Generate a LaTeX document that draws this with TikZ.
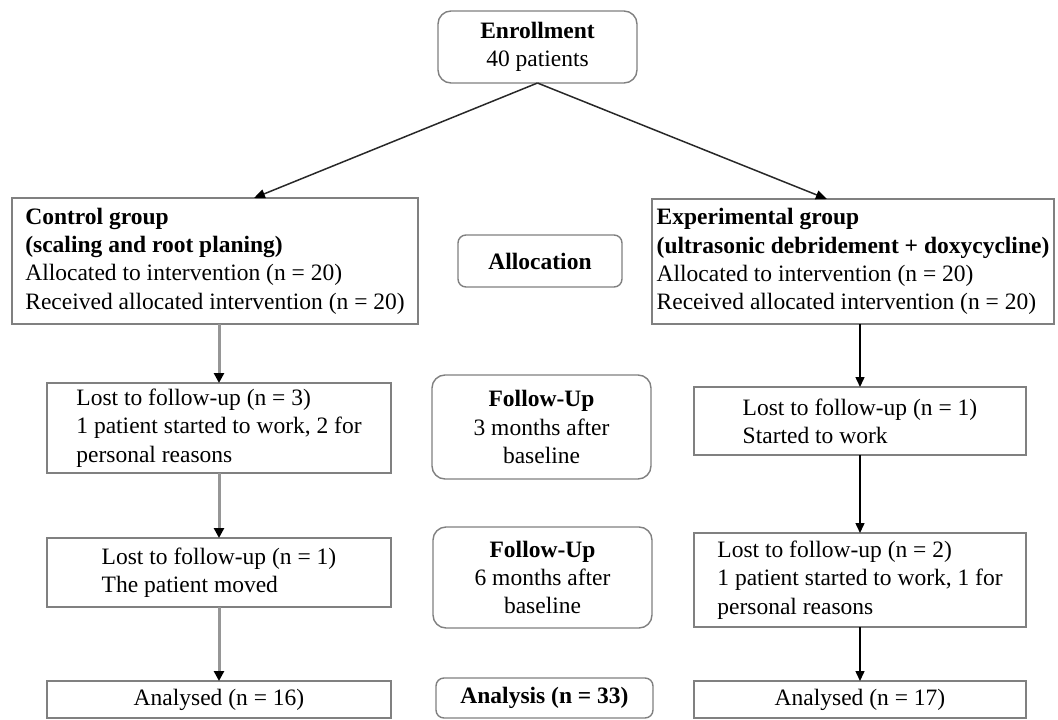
\documentclass[tikz,border=0pt]{standalone}
\usepackage{fontspec}
\setmainfont{Liberation Serif}
\usetikzlibrary{arrows.meta,calc}
\definecolor{boxgray}{RGB}{128,128,128}
\definecolor{arrgray}{RGB}{150,150,150}
\definecolor{linedark}{RGB}{40,40,40}
\begin{document}
\begin{tikzpicture}[x=1pt,y=-1pt,
  every node/.style={font=\fontsize{23.5}{28.3}\selectfont, inner sep=0pt, outer sep=0pt},
  box/.style={draw=boxgray, line width=1.4pt, align=left},
  cbox/.style={draw=boxgray, line width=1.4pt, align=center},
  rbox/.style={draw=boxgray, line width=1.4pt, align=center, rounded corners=13pt},
  sbox/.style={draw=boxgray, line width=1.4pt, align=center, rounded corners=8pt},
  garrow/.style={draw=arrgray, line width=3pt, -{Triangle[color=black,fill=black,length=10pt,width=10pt]}},
  barrow/.style={draw=black, line width=1.5pt, -{Triangle[length=10pt,width=9pt]}},
  darrow/.style={draw=linedark, line width=1.5pt, -{Triangle[color=black,fill=black,length=11pt,width=9pt]}},
]
\useasboundingbox (0,0) rectangle (1058,720);

% Middle column
\node[rbox, minimum width=199pt, minimum height=72pt] (enr) at (537.5,47) {\textbf{Enrollment}\\40 patients};
\node[sbox, minimum width=164pt, minimum height=52pt] (alloc) at (540,261) {\textbf{Allocation}};
\node[rbox, minimum width=219pt, minimum height=104pt] (fu1) at (541.5,427) {\textbf{Follow-Up}\\3 months after\\baseline};
\node[rbox, minimum width=219pt, minimum height=101pt] (fu2) at (542.5,577.5) {\textbf{Follow-Up}\\6 months after\\baseline};
\node[sbox, minimum width=217pt, minimum height=40pt] (ana) at (544.5,698) {\textbf{Analysis (n = 33)}};

% Left column
\node[box, minimum width=406pt, minimum height=126pt] (ctrl) at (215,261)
  {\textbf{Control group}\\\textbf{(scaling and root planing)}\\Allocated to intervention (n = 20)\\Received allocated intervention (n = 20)};
\node[box, minimum width=344pt, minimum height=90pt] (lost1) at (219,428)
  {Lost to follow-up (n = 3)\\1 patient started to work, 2 for\\personal reasons};
\node[box, minimum width=344pt, minimum height=69pt] (lost2) at (219,572.5)
  {Lost to follow-up (n = 1)\\The patient moved};
\node[cbox, minimum width=344pt, minimum height=37pt] (anaL) at (219,699.5) {Analysed (n = 16)};

% Right column
\node[box, minimum width=402pt, minimum height=125pt] (exp) at (853,261.5)
  {\textbf{Experimental group}\\\textbf{(ultrasonic debridement + doxycycline)}\\Allocated to intervention (n = 20)\\Received allocated intervention (n = 20)};
\node[box, minimum width=332pt, minimum height=68pt] (rlost1) at (860,421)
  {Lost to follow-up (n = 1)\\Started to work};
\node[box, minimum width=332pt, minimum height=94pt] (rlost2) at (860,580)
  {Lost to follow-up (n = 2)\\1 patient started to work, 1 for\\personal reasons};
\node[cbox, minimum width=332pt, minimum height=37pt] (anaR) at (860,699.5) {Analysed (n = 17)};

% Connectors
\draw[darrow] (enr.south) -- ($(ctrl.north west)!0.596!(ctrl.north east)$);
\draw[darrow] (enr.south) -- ($(exp.north west)!0.435!(exp.north east)$);

\draw[garrow] (lost1.north |- ctrl.south) -- (lost1.north);
\draw[garrow] (lost1.south) -- (lost2.north);
\draw[garrow] (lost2.south) -- (anaL.north);

\draw[barrow] (rlost1.north |- exp.south) -- (rlost1.north);
\draw[barrow] (rlost1.south) -- (rlost2.north);
\draw[barrow] (rlost2.south) -- (anaR.north);
\end{tikzpicture}
\end{document}
